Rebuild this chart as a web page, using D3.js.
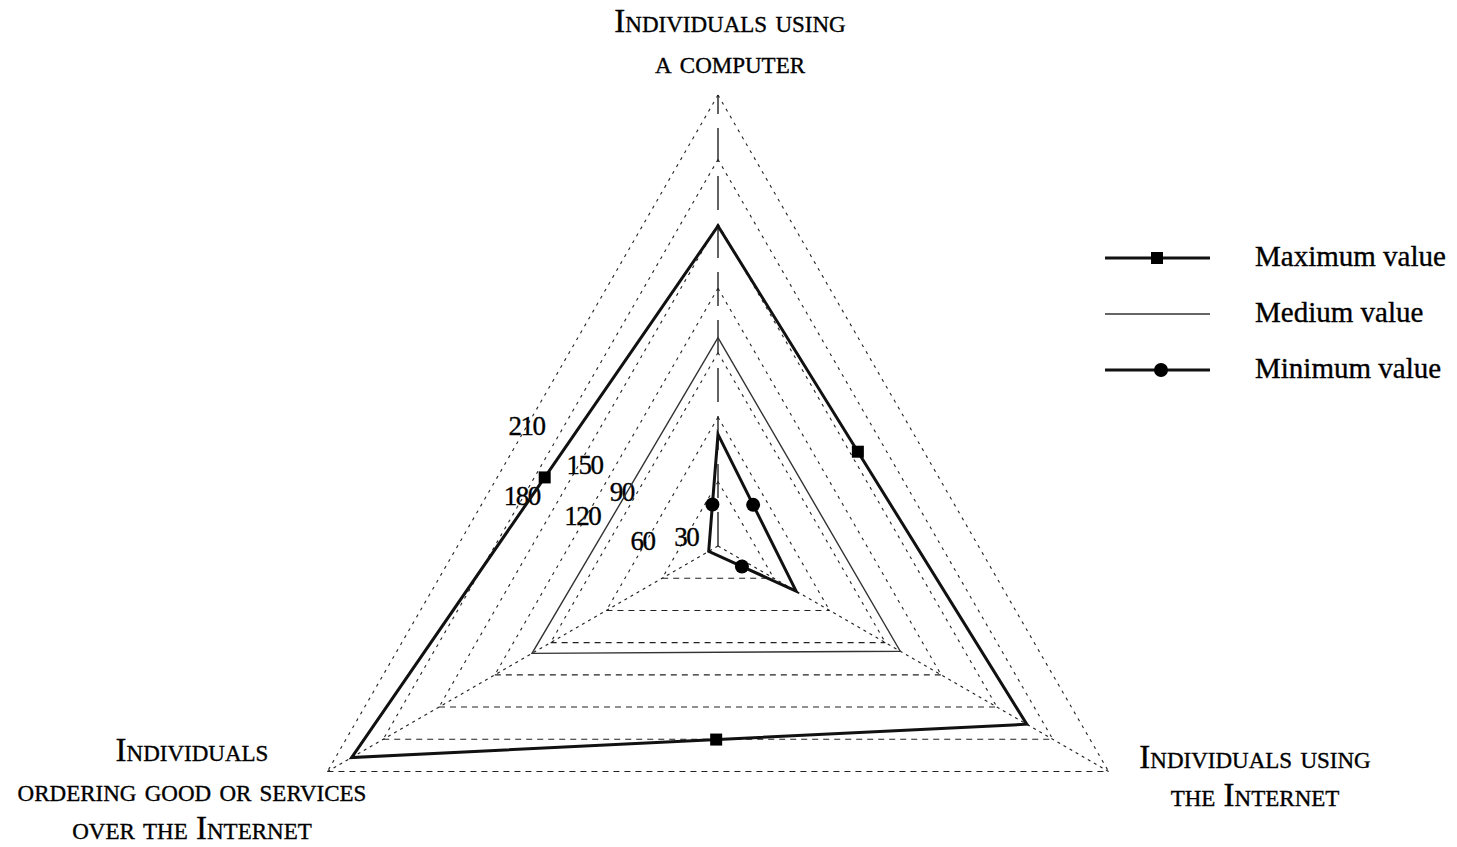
<!DOCTYPE html>
<html><head><meta charset="utf-8">
<script src="https://cdn.jsdelivr.net/npm/d3@7"></script>
<style>
html,body{margin:0;padding:0;background:#fff;}
svg{display:block;}
text{font-family:"Liberation Serif","Times New Roman",serif;fill:#000;stroke:#000;stroke-width:0.35;}
</style></head>
<body>
<svg id="chart" width="1457" height="847"></svg>
<script>
// ---- data ----
const axes = ["computer", "internet", "ordering"];
const axisLabels = [
  ["Individuals using", "a computer"],
  ["Individuals using", "the Internet"],
  ["Individuals", "ordering good or services", "over the Internet"]
];
const seriesNames = ["Maximum value", "Medium value", "Minimum value"];
const maxValues = [149, 166, 197];
const medValues = [97, 98, 100];
const minValues = [52, 42, 5];
const tickValues = [30, 60, 90, 120, 150, 180, 210];
const tickLabels = ["30", "60", "90", "120", "150", "180", "210"];

// ---- layout ----
const W = 1457, H = 847;
const cx = 718, cy = 546, R = 451;
const angles = [-90, 30, 150].map(a => a * Math.PI / 180);
const r = d3.scaleLinear().domain([0, 210]).range([0, R]);
const pt = (i, v) => [cx + r(v) * Math.cos(angles[i]), cy + r(v) * Math.sin(angles[i])];
const lerp = (a, b, t) => [a[0] + (b[0] - a[0]) * t, a[1] + (b[1] - a[1]) * t];

const svg = d3.select("#chart");

// grid rings
const grid = svg.append("g");
tickValues.forEach(v => {
  const p0 = pt(0, v), p1 = pt(1, v), p2 = pt(2, v);
  grid.append("line").attr("x1", p0[0]).attr("y1", p0[1]).attr("x2", p1[0]).attr("y2", p1[1])
    .attr("stroke", "#222").attr("stroke-width", 1.1).attr("stroke-dasharray", "3,5");
  grid.append("line").attr("x1", p0[0]).attr("y1", p0[1]).attr("x2", p2[0]).attr("y2", p2[1])
    .attr("stroke", "#222").attr("stroke-width", 1.1).attr("stroke-dasharray", "3,5");
  grid.append("line").attr("x1", p2[0]).attr("y1", p2[1]).attr("x2", p1[0]).attr("y2", p1[1])
    .attr("stroke", "#222").attr("stroke-width", 1.1).attr("stroke-dasharray", "6,5");
});
// radial axes
const topPt = pt(0, 210);
grid.append("line").attr("x1", cx).attr("y1", cy).attr("x2", topPt[0]).attr("y2", topPt[1])
  .attr("stroke", "#222").attr("stroke-width", 1.4).attr("stroke-dasharray", "34,14");
[1, 2].forEach(i => {
  const p = pt(i, 210);
  grid.append("line").attr("x1", cx).attr("y1", cy).attr("x2", p[0]).attr("y2", p[1])
    .attr("stroke", "#222").attr("stroke-width", 1.1).attr("stroke-dasharray", "3,4");
});

// tick labels along left edge of each ring
const tickFrac = [0.57, 0.64, 0.48, 0.59, 0.5, 0.58, 0.49];
const tickDx = [0, -4, -16, -4, 6, -2, 0];
tickValues.forEach((v, k) => {
  const p = lerp(pt(0, v), pt(2, v), tickFrac[k]);
  svg.append("text").attr("x", p[0] + tickDx[k]).attr("y", p[1] + 9)
    .attr("text-anchor", "middle").attr("font-size", 27).attr("letter-spacing", -1.5)
    .text(tickLabels[k]);
});

// series
const line = d3.line().curve(d3.curveLinearClosed);
function drawSeries(vals, width, color, marker, fracs) {
  const pts = vals.map((v, i) => pt(i, v));
  svg.append("path").attr("d", line(pts)).attr("fill", "none")
    .attr("stroke", color).attr("stroke-width", width).attr("stroke-linejoin", "miter");
  if (!marker) return;
  fracs.forEach((f, i) => {
    const m = lerp(pts[i], pts[(i + 1) % 3], f);
    if (marker === "square") {
      svg.append("rect").attr("x", m[0] - 6).attr("y", m[1] - 6).attr("width", 12).attr("height", 12).attr("fill", "#000");
    } else {
      svg.append("circle").attr("cx", m[0]).attr("cy", m[1]).attr("r", 7).attr("fill", "#000");
    }
  });
}
drawSeries(medValues, 1.4, "#333", null, null);
drawSeries(maxValues, 3, "#111", "square", [0.453, 0.46, 0.527]);
drawSeries(minValues, 3, "#111", "circle", [0.45, 0.62, 0.40]);

// axis labels
const labelPos = [
  {x: 730, y: [32, 73]},
  {x: 1255, y: [768, 806]},
  {x: 192, y: [761, 801, 839]}
];
axisLabels.forEach((lines, i) => {
  lines.forEach((t, j) => {
    svg.append("text").attr("x", labelPos[i].x).attr("y", labelPos[i].y[j])
      .attr("text-anchor", "middle").attr("font-size", 33)
      .style("font-variant", "small-caps").text(t);
  });
});

// legend
const legY = [258, 314, 370];
const leg = svg.append("g");
seriesNames.forEach((n, i) => {
  const y = legY[i];
  leg.append("line").attr("x1", 1105).attr("x2", 1210).attr("y1", y).attr("y2", y)
    .attr("stroke", i === 1 ? "#333" : "#111").attr("stroke-width", i === 1 ? 1.4 : 3);
  if (i === 0) leg.append("rect").attr("x", 1151).attr("y", y - 6).attr("width", 12).attr("height", 12).attr("fill", "#000");
  if (i === 2) leg.append("circle").attr("cx", 1161).attr("cy", y).attr("r", 7).attr("fill", "#000");
  leg.append("text").attr("x", 1255).attr("y", y + 8).attr("font-size", 29).text(n);
});
</script>
</body></html>
